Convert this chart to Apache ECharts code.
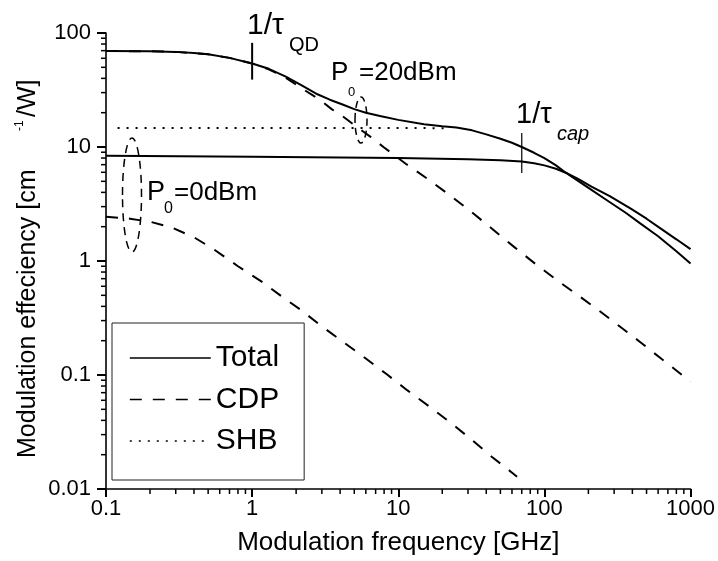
<!DOCTYPE html>
<html>
<head>
<meta charset="utf-8">
<script src="https://cdn.jsdelivr.net/npm/echarts@6/dist/echarts.min.js"></script>
<style>html,body{margin:0;padding:0;background:#fff}#c{width:718px;height:561px}</style>
</head>
<body>
<div id="c"></div>
<script>
// ---------- data ----------
const xTickValues = [0.1, 1, 10, 100, 1000];
const xTickLabels = ['0.1', '1', '10', '100', '1000'];
const yTickValues = [0.01, 0.1, 1, 10, 100];
const yTickLabels = ['0.01', '0.1', '1', '10', '100'];
const xMinorTicks = [0.2, 0.3, 0.4, 0.5, 0.6, 0.7, 0.8, 0.9, 2, 3, 4, 5, 6, 7, 8, 9,
  20, 30, 40, 50, 60, 70, 80, 90, 200, 300, 400, 500, 600, 700, 800, 900];
const yMinorTicks = [0.02, 0.03, 0.04, 0.05, 0.06, 0.07, 0.08, 0.09, 0.2, 0.3, 0.4, 0.5, 0.6, 0.7, 0.8, 0.9,
  2, 3, 4, 5, 6, 7, 8, 9, 20, 30, 40, 50, 60, 70, 80, 90];

// Total, P0 = 20 dBm
const freqTotal20 = [0.1, 0.2, 0.3, 0.4, 0.5, 0.7, 1.0, 1.3, 1.7, 2.2, 2.8, 3.4, 4.2, 5.0, 6.0, 7.5, 10, 15, 20, 25, 32, 40, 50, 60, 70, 85, 100, 120, 140, 170, 210, 260, 360, 450, 600, 800, 1000];
const effTotal20  = [69.5, 69.2, 68.3, 66.8, 65, 60.5, 54, 48.5, 41.5, 34.5, 29, 26, 23.5, 21.5, 20.0, 18.7, 17.3, 15.8, 15.2, 14.8, 14.0, 12.9, 11.8, 10.9, 10.0, 8.9, 8.0, 6.9, 5.95, 5.05, 4.2, 3.5, 2.65, 2.15, 1.65, 1.22, 0.95];
// CDP, P0 = 20 dBm
const freqCdp20 = [0.1, 0.2, 0.3, 0.5, 0.7, 1.0, 1.3, 1.7, 2.2, 2.9, 3.5, 4.1, 5.2, 6.5, 8, 11.3, 16.4, 23, 31.6, 43.6, 62, 87, 132, 170, 235, 330, 456, 635, 885, 1000];
const effCdp20  = [69.5, 69.2, 68.3, 65, 60.5, 54, 48, 40.5, 32.5, 26, 21.5, 18.9, 15, 12.2, 9.9, 7.1, 5.1, 3.7, 2.7, 1.93, 1.33, 0.94, 0.63, 0.5, 0.37, 0.265, 0.193, 0.138, 0.099, 0.088];
// SHB, P0 = 20 dBm
const freqShb20 = [0.12, 1, 5, 10, 22];
const effShb20  = [14.7, 14.7, 14.7, 14.7, 14.6];
// Total, P0 = 0 dBm
const freqTotal0 = [0.1, 1, 10, 30, 50, 70, 85, 100, 120, 140, 170, 210, 280, 395, 500, 605, 800, 1000];
const effTotal0  = [8.4, 8.2, 8.0, 7.8, 7.65, 7.45, 7.2, 6.9, 6.45, 5.95, 5.25, 4.5, 3.7, 2.85, 2.35, 1.98, 1.55, 1.27];
// CDP, P0 = 0 dBm
const freqCdp0 = [0.1, 0.146, 0.203, 0.286, 0.405, 0.555, 0.8, 1.18, 1.59, 2.2, 2.94, 4.2, 5.8, 8.3, 11.5, 16.3, 23, 31.6, 43.6, 61, 65];
const effCdp0  = [2.45, 2.35, 2.2, 1.95, 1.6, 1.25, 0.9, 0.65, 0.49, 0.365, 0.272, 0.195, 0.144, 0.102, 0.0736, 0.053, 0.0378, 0.0272, 0.0192, 0.0137, 0.0128];
// characteristic-frequency markers
const tauQDFreq = [1, 1];
const tauQDEff  = [82, 39];
const tauCapFreq = [70, 70];
const tauCapEff  = [13.3, 5.9];

// ---------- chart ----------
const FONT = '"Liberation Sans", Arial, Helvetica, sans-serif';
const pairs = (f, v) => f.map((x, i) => [x, v[i]]);
const chart = echarts.init(document.getElementById('c'), null, { renderer: 'canvas' });

const solid = { color: '#000', width: 2, type: 'solid' };
const dashed = { color: '#000', width: 2, type: [12, 11] };
const dotted = { color: '#000', width: 2, type: [2, 7] };

function labelFrom(values, labels) {
  return v => {
    const i = values.findIndex(t => Math.abs(Math.log10(t) - Math.log10(v)) < 1e-6);
    return i >= 0 ? labels[i] : '';
  };
}

const txt = (x, y, text, size, extra, rot) => {
  const el = {
    type: 'text', x: x, y: y, silent: true,
    style: Object.assign({ text: text, fontSize: size, fontFamily: FONT, fill: '#000', align: 'left', verticalAlign: 'middle' }, extra || {})
  };
  if (rot) el.rotation = rot;
  return el;
};

const annotations = [
  // y-axis title (rotated)
  txt(28, 458, 'Modulation effeciency [cm', 25, null, Math.PI / 2),
  txt(20, 131, '-1', 12, null, Math.PI / 2),
  txt(28, 117, '/W]', 25, null, Math.PI / 2),
  // 1/tau_QD
  txt(247, 26, '1/τ', 30),
  txt(289, 45, 'QD', 20),
  // 1/tau_cap
  txt(516, 115, '1/τ', 29),
  txt(557, 134, 'cap', 20, { fontStyle: 'italic' }),
  // P0 = 20 dBm
  txt(331, 73, 'P', 26),
  txt(348, 92, '0', 13),
  txt(359, 73, '=20dBm', 26),
  // P0 = 0 dBm
  txt(147, 193, 'P', 27),
  txt(164, 209, '0', 16),
  txt(174, 193, '=0dBm', 26),
  // dashed ellipses marking the two power levels
  { type: 'ellipse', silent: true, shape: { cx: 132, cy: 195, rx: 9.5, ry: 57 },
    style: { fill: 'none', stroke: '#000', lineWidth: 1.5, lineDash: [8, 6] } },
  { type: 'ellipse', silent: true, shape: { cx: 361, cy: 120, rx: 6, ry: 23 },
    style: { fill: 'none', stroke: '#000', lineWidth: 1.5, lineDash: [7, 5] } }
];

const option = {
  animation: false,
  backgroundColor: '#fff',
  grid: { left: 106, top: 33, right: 26, bottom: 71, containLabel: false },
  xAxis: {
    type: 'log', logBase: 10, min: 0.1, max: 1000, position: 'bottom',
    axisLine: { show: true, lineStyle: { color: '#000', width: 1.6 } },
    splitLine: { show: false },
    axisTick: { show: true, inside: false, length: 8, lineStyle: { color: '#000', width: 2 } },
    axisLabel: { show: true, margin: 9, fontSize: 22, fontFamily: FONT, color: '#000', customValues: xTickValues, formatter: labelFrom(xTickValues, xTickLabels) },
    name: 'Modulation frequency [GHz]', nameLocation: 'middle', nameGap: 41,
    nameTextStyle: { fontSize: 26, fontFamily: FONT, color: '#000' }
  },
  yAxis: {
    type: 'log', logBase: 10, min: 0.01, max: 100, position: 'left',
    axisLine: { show: true, lineStyle: { color: '#000', width: 1.6 } },
    splitLine: { show: false },
    axisTick: { show: true, inside: false, length: 9, lineStyle: { color: '#000', width: 2 } },
    axisLabel: { show: true, margin: 15, fontSize: 22, fontFamily: FONT, color: '#000', customValues: yTickValues, formatter: labelFrom(yTickValues, yTickLabels) }
  },
  legend: {
    data: ['Total', 'CDP', 'SHB'],
    orient: 'vertical', left: 112, top: 323,
    itemWidth: 81, itemHeight: 14, itemGap: 11.5, itemTextGap: 6,
    padding: [20, 25, 24, 17],
    borderColor: '#222', borderWidth: 1, backgroundColor: '#fff',
    selectedMode: false,
    itemStyle: { opacity: 0 },
    lineStyle: { width: 1.6 },
    textStyle: { fontSize: 30, fontFamily: FONT, color: '#000', lineHeight: 30 }
  },
  series: [
    { name: 'SHB', type: 'line', data: pairs(freqShb20, effShb20), symbol: 'none', lineStyle: dotted, itemStyle: { color: '#000' }, z: 2 },
    { name: 'Total', type: 'line', data: pairs(freqTotal20, effTotal20), symbol: 'none', lineStyle: solid, itemStyle: { color: '#000' }, z: 3 },
    { name: 'Total', type: 'line', data: pairs(freqTotal0, effTotal0), symbol: 'none', lineStyle: solid, itemStyle: { color: '#000' }, z: 3 },
    { name: 'CDP', type: 'line', data: pairs(freqCdp20, effCdp20), symbol: 'none', lineStyle: dashed, itemStyle: { color: '#000' }, z: 4 },
    { name: 'CDP', type: 'line', data: pairs(freqCdp0, effCdp0), symbol: 'none', lineStyle: dashed, itemStyle: { color: '#000' }, z: 4 },
    { name: 'tauQD', type: 'line', data: pairs(tauQDFreq, tauQDEff), symbol: 'none', lineStyle: { color: '#000', width: 2 }, z: 5 },
    { name: 'tauCap', type: 'line', data: pairs(tauCapFreq, tauCapEff), symbol: 'none', lineStyle: { color: '#000', width: 1.2 }, z: 5 }
  ]
};
chart.setOption(option);

// ---- minor tick marks placed through the chart's own log scales ----
const ticks = [];
const finder = { xAxisIndex: 0, yAxisIndex: 0 };
xMinorTicks.forEach(v => {
  const p = chart.convertToPixel(finder, [v, yTickValues[0]]);
  ticks.push({ type: 'line', silent: true,
    shape: { x1: p[0], y1: p[1], x2: p[0], y2: p[1] + 5 }, style: { stroke: '#000', lineWidth: 1.5 } });
});
yMinorTicks.forEach(v => {
  const p = chart.convertToPixel(finder, [xTickValues[0], v]);
  ticks.push({ type: 'line', silent: true,
    shape: { x1: p[0], y1: p[1], x2: p[0] - 5, y2: p[1] }, style: { stroke: '#000', lineWidth: 1.5 } });
});
chart.setOption({ graphic: annotations.concat(ticks) });
</script>
</body>
</html>
